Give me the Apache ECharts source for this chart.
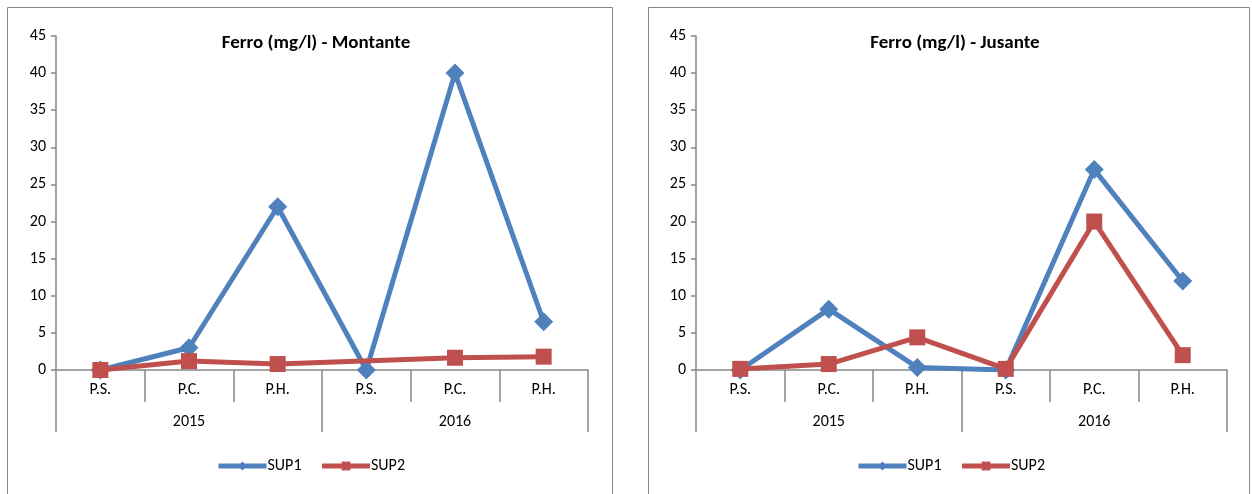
<!DOCTYPE html>
<html>
<head>
<meta charset="utf-8">
<script src="https://cdn.jsdelivr.net/npm/echarts@6/dist/echarts.min.js"></script>
<style>
  html, body { margin: 0; padding: 0; background: #fff; }
  #chart { width: 1252px; height: 494px; }
</style>
</head>
<body>
<div id="chart"></div>
<script>
// Sampling periods (dry, rainy, wet season) grouped by year
const periods = ['P.S.', 'P.C.', 'P.H.', 'P.S.', 'P.C.', 'P.H.'];
const years = ['2015', '2016'];
const yTicks = { min: 0, max: 45, interval: 5 };

// Iron concentration (mg/l), upstream
const montanteSUP1 = [0, 3, 22, 0, 40, 6.5];
const montanteSUP2 = [0, 1.2, 0.8, null, 1.65, 1.8];

// Iron concentration (mg/l), downstream
const jusanteSUP1 = [0, 8.2, 0.35, 0, 27, 12];
const jusanteSUP2 = [0.15, 0.8, 4.4, 0.15, 20, 2];

const seriesNames = ['SUP1', 'SUP2'];
const titles = ['Ferro (mg/l) - Montante', 'Ferro (mg/l) - Jusante'];

const FONT = "Carlito, Lato, 'Liberation Sans', sans-serif";
const BLUE = '#4F81BD';
const RED = '#C0504D';
const AXIS = '#868686';

const panels = [
  { left: 56, width: 532, cx: 311, legendLeft: 211, box: [7, 605], s1: montanteSUP1, s2: montanteSUP2 },
  { left: 696, width: 531, cx: 950, legendLeft: 851, box: [648, 601], s1: jusanteSUP1, s2: jusanteSUP2 }
];

const grid = [], xAxis = [], yAxis = [], series = [], title = [], legend = [], graphic = [];

panels.forEach((p, i) => {
  grid.push({ left: p.left, top: 36, width: p.width, height: 334 });

  // period labels with separators between categories
  xAxis.push({
    type: 'category', gridIndex: i, data: periods, boundaryGap: true,
    axisLine: { lineStyle: { color: AXIS, width: 1.5 } },
    axisTick: { show: true, interval: 0, length: 32, lineStyle: { color: AXIS, width: 1.5 } },
    axisLabel: { interval: 0, margin: 12, color: '#000', fontFamily: FONT, fontSize: 16 }
  });
  // year group row
  xAxis.push({
    type: 'category', gridIndex: i, data: years, boundaryGap: true,
    position: 'bottom', offset: 32,
    axisLine: { show: false },
    axisTick: { show: true, interval: 0, length: 30, lineStyle: { color: AXIS, width: 1.5 } },
    axisLabel: { interval: 0, margin: 12, color: '#000', fontFamily: FONT, fontSize: 16 }
  });

  yAxis.push({
    type: 'value', gridIndex: i, min: yTicks.min, max: yTicks.max, interval: yTicks.interval,
    splitLine: { show: false },
    axisLine: { show: true, lineStyle: { color: AXIS, width: 1.5 } },
    axisTick: { show: true, length: 5, lineStyle: { color: AXIS, width: 1.5 } },
    axisLabel: { margin: 10, color: '#000', fontFamily: FONT, fontSize: 16 }
  });

  series.push({
    name: seriesNames[0], type: 'line', xAxisIndex: i * 2, yAxisIndex: i,
    data: p.s1, symbol: 'diamond', symbolSize: 19, connectNulls: true,
    lineStyle: { color: BLUE, width: 5 }, itemStyle: { color: BLUE }, z: 2
  });
  series.push({
    name: seriesNames[1], type: 'line', xAxisIndex: i * 2, yAxisIndex: i,
    data: p.s2, symbol: 'rect', symbolSize: 16, connectNulls: true,
    lineStyle: { color: RED, width: 5 }, itemStyle: { color: RED }, z: 3
  });

  title.push({
    text: titles[i], left: p.cx, top: 29, textAlign: 'center',
    textStyle: { fontFamily: FONT, fontSize: 19, fontWeight: 'bold', color: '#000' }
  });

  legend.push({
    data: seriesNames, left: p.legendLeft, top: 453,
    itemWidth: 48, itemHeight: 11, itemGap: 18,
    seriesIndex: [i * 2, i * 2 + 1],
    lineStyle: { width: 5 },
    textStyle: { fontFamily: FONT, fontSize: 16, color: '#000', padding: [0, 0, 0, -4] }
  });

  graphic.push({
    type: 'rect', silent: true,
    shape: { x: p.box[0] + 0.5, y: 7.5, width: p.box[1], height: 500 },
    style: { fill: null, stroke: AXIS, lineWidth: 1 }
  });
});

const chart = echarts.init(document.getElementById('chart'));
chart.setOption({
  animation: false,
  backgroundColor: '#fff',
  title, grid, xAxis, yAxis, series, legend, graphic
});
</script>
</body>
</html>
